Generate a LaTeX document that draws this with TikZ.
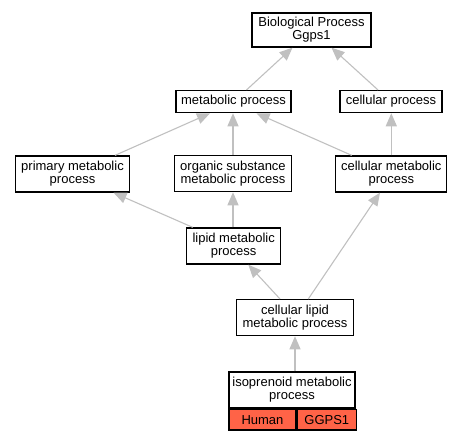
\documentclass[tikz,border=0pt]{standalone}
\usepackage{fontspec}
\setmainfont{Liberation Sans}
\usepackage{tikz}
\usetikzlibrary{arrows.meta, positioning, calc}
\definecolor{EdgeGray}{HTML}{C0C0C0}
\definecolor{GeneRed}{HTML}{FF6347}

\begin{document}
\begin{tikzpicture}[x=1pt, y=-1pt,
  term/.style={rectangle, draw=black, line width=1.3pt, fill=white,
    font=\fontsize{13}{13.2}\selectfont, align=center, inner sep=0pt, minimum height=36pt},
  gene/.style={term, fill=GeneRed, minimum height=20.6pt, anchor=north west},
  isa/.style={-{Triangle[length=13pt, width=11pt]}, EdgeGray, line width=1.1pt}
]
\useasboundingbox (0,0) rectangle (461,440);

\node[term, minimum width=119, minimum height=34] (bio)     at (311.5,30)  {Biological Process\\Ggps1};
\node[term, minimum width=115, minimum height=22] (met)     at (233.5,101.6) {metabolic process};
\node[term, minimum width=102, minimum height=22] (cellproc) at (391,101.6) {cellular process};
\node[term, minimum width=114] (primary)  at (72.5,174)  {primary metabolic\\process};
\node[term, minimum width=117] (organic)  at (233,173.6) {organic substance\\metabolic process};
\node[term, minimum width=111] (cellmet)  at (391.3,174) {cellular metabolic\\process};
\node[term, minimum width=94]  (lipid)    at (233.7,246) {lipid metabolic\\process};
\node[term, minimum width=117] (cellipid) at (295,317.6)  {cellular lipid\\metabolic process};
\node[term, minimum width=126] (isopren)  at (292,390)    {isoprenoid metabolic\\process};
\node[gene, minimum width=67] (human) at (isopren.south west) {Human};
\node[gene, minimum width=59] (ggps)  at (human.north east)   {GGPS1};

% is_a edges
\draw[isa] ([xshift=13]met.north)       -- ([xshift=-19]bio.south);
\draw[isa] ([xshift=-13]cellproc.north) -- ([xshift=20]bio.south);
\draw[isa] ([xshift=42.5]primary.north) -- ([xshift=-23.5]met.south);
\draw[isa] (organic.north)              -- (organic.north |- met.south);
\draw[isa] ([xshift=-39.6]cellmet.north) -- ([xshift=23]met.south);
\draw[isa] (cellmet.north)              -- (cellmet.north |- cellproc.south);
\draw[isa] ([xshift=-41]lipid.north)    -- ([xshift=41]primary.south);
\draw[isa] (lipid.north -| organic.south) -- (organic.south);
\draw[isa] ([xshift=-15]cellipid.north) -- ([xshift=14.6]lipid.south);
\draw[isa] ([xshift=13.3]cellipid.north) -- ([xshift=-11.3]cellmet.south);
\draw[isa] (isopren.north -| cellipid.south) -- (cellipid.south);

\end{tikzpicture}
\end{document}
